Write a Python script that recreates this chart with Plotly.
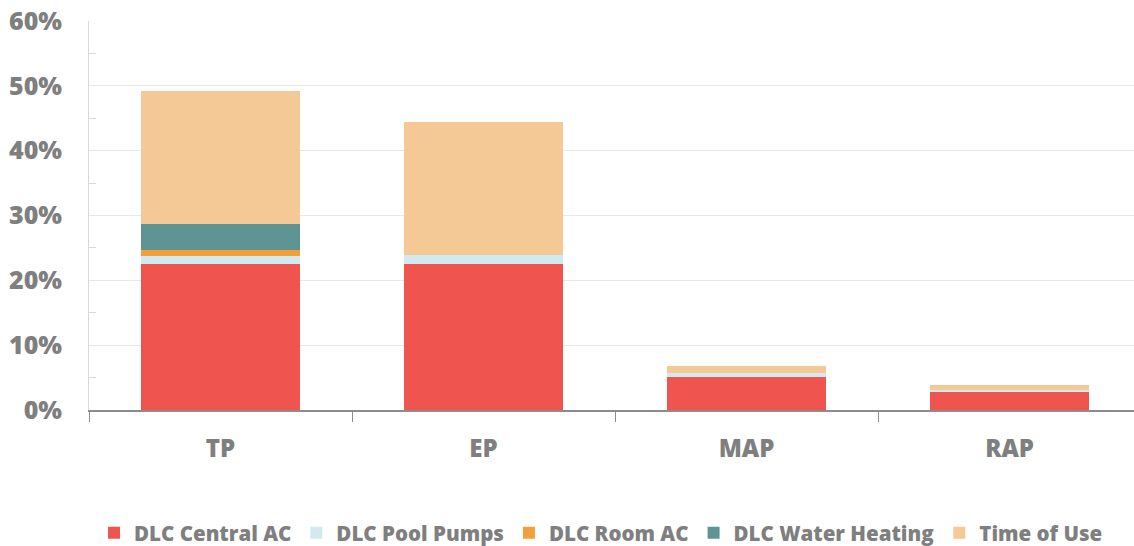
import plotly.graph_objects as go

programs = ["TP", "EP", "MAP", "RAP"]

central_ac = [0.2253, 0.2253, 0.0509, 0.0289]
pool_pumps = [0.0128, 0.0134, 0.0057, 0.0025]
room_ac = [0.0088, 0.0, 0.0, 0.0]
water_heating = [0.0397, 0.0, 0.0, 0.0]
time_of_use = [0.2057, 0.2057, 0.0108, 0.0077]

series = [
    ("DLC Central AC", central_ac, "#F0544F"),
    ("DLC Pool Pumps", pool_pumps, "#D0EAF0"),
    ("DLC Room AC", room_ac, "#F0A03C"),
    ("DLC Water Heating", water_heating, "#5F9494"),
    ("Time of Use", time_of_use, "#F4C995"),
]

FONT = "Open Sans"
GREY = "#7F7F7F"

fig = go.Figure()
for name, vals, color in series:
    fig.add_trace(go.Bar(
        x=programs,
        y=vals,
        name=name,
        marker=dict(color=color, line=dict(width=0)),
    ))

fig.update_layout(
    barmode="stack",
    bargap=0.395,
    width=1134,
    height=546,
    paper_bgcolor="white",
    plot_bgcolor="white",
    font=dict(family=FONT, color=GREY),
    margin=dict(l=89, r=0, t=21, b=136, autoexpand=False),
    showlegend=True,
    legend=dict(
        orientation="h",
        x=0.49,
        xanchor="center",
        y=-0.316,
        yanchor="middle",
        font=dict(family=FONT, size=20.5, color=GREY, weight=800),
        traceorder="normal",
    ),
    xaxis=dict(
        range=[-0.5, 3.473],
        showline=True,
        linecolor="#8C8C8C",
        linewidth=2,
        ticks="outside",
        tickson="boundaries",
        ticklen=10,
        tickcolor="#8C8C8C",
        tickwidth=1,
        ticklabelstandoff=16,
        tickfont=dict(family=FONT, size=24, color=GREY, weight=800),
        showgrid=False,
    ),
    yaxis=dict(
        range=[0, 0.6],
        dtick=0.1,
        tickformat=".0%",
        showline=True,
        linecolor="#D9D9D9",
        linewidth=1,
        showgrid=True,
        gridcolor="#E8E8E8",
        gridwidth=1,
        zeroline=False,
        ticks="",
        ticklabelstandoff=21,
        tickfont=dict(family=FONT, size=25, color=GREY, weight=800),
        minor=dict(
            dtick=0.05,
            ticks="inside",
            ticklen=7,
            tickcolor="#D9D9D9",
            showgrid=False,
        ),
    ),
)

fig.write_html(
    "out.html",
    config={"displayModeBar": False},
    post_script="document.body.style.margin='0';",
)
